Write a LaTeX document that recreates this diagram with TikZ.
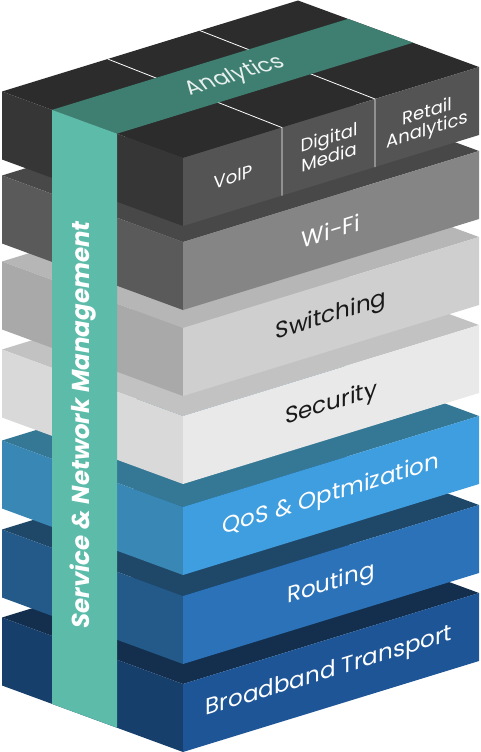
\documentclass[tikz,border=0pt]{standalone}
\usepackage{fontspec}
\setmainfont{Poppins}
\definecolor{apptop}{HTML}{2C2C2C}
\definecolor{appleft}{HTML}{363636}
\definecolor{appright}{HTML}{545454}
\definecolor{wifitop}{HTML}{484848}
\definecolor{wifileft}{HTML}{5A5A5A}
\definecolor{wifiright}{HTML}{858585}
\definecolor{switop}{HTML}{B6B6B6}
\definecolor{swileft}{HTML}{A9A9A9}
\definecolor{swiright}{HTML}{CFCFCF}
\definecolor{sectop}{HTML}{C2C2C2}
\definecolor{secleft}{HTML}{D9D9D9}
\definecolor{secright}{HTML}{E9E9E9}
\definecolor{qostop}{HTML}{347895}
\definecolor{qosleft}{HTML}{3987B5}
\definecolor{qosright}{HTML}{3F9EE0}
\definecolor{routop}{HTML}{1F4768}
\definecolor{rouleft}{HTML}{245A8A}
\definecolor{rouright}{HTML}{2B72B8}
\definecolor{bbtop}{HTML}{132F4D}
\definecolor{bbleft}{HTML}{173F6B}
\definecolor{bbright}{HTML}{1D5597}
\definecolor{mgmt}{HTML}{5DBBAA}
\definecolor{mgmttop}{HTML}{3F7F71}
\begin{document}
\begin{tikzpicture}[x=1pt,y=-1pt,
    face text/.style={yslant=.307,font=\fontsize{23}{26}\selectfont,text=white},
    app text/.style={yslant=.307,font=\fontsize{18}{18}\selectfont,text=white,align=center},
    top text/.style={cm={.955,.294,-.6,.8,(0,0)},font=\fontsize{22}{24}\selectfont,text=white!88!mgmttop},
    mgmt text/.style={rotate=90,font=\fontsize{24.5}{26}\selectfont\bfseries\itshape,text=white}]
    \useasboundingbox (0,0) rectangle (480,752);
    \begin{scope}[shift={(183,684)}]
      \fill[fill=bbtop]   (0,0) -- (-181,-66.5) -- (115,-157.5) -- (296,-91) -- cycle;
      \fill[fill=bbleft]  (0,0) -- (-181,-66.5) -- (-181,1.5) -- (0,68) -- cycle;
      \fill[fill=bbright] (0,0) -- (296,-91) -- (296,-23) -- (0,68) -- cycle;
      \node[face text] (broadband) at (146,-11.5) {Broadband Transport};
    \end{scope}
    \begin{scope}[shift={(183,596)}]
      \fill[fill=routop]   (0,0) -- (-181,-66.5) -- (115,-157.5) -- (296,-91) -- cycle;
      \fill[fill=rouleft]  (0,0) -- (-181,-66.5) -- (-181,1.5) -- (0,68) -- cycle;
      \fill[fill=rouright] (0,0) -- (296,-91) -- (296,-23) -- (0,68) -- cycle;
      \node[face text] (routing) at (148,-11.5) {Routing};
    \end{scope}
    \begin{scope}[shift={(183,507)}]
      \fill[fill=qostop]   (0,0) -- (-181,-66.5) -- (115,-157.5) -- (296,-91) -- cycle;
      \fill[fill=qosleft]  (0,0) -- (-181,-66.5) -- (-181,1.5) -- (0,68) -- cycle;
      \fill[fill=qosright] (0,0) -- (296,-91) -- (296,-23) -- (0,68) -- cycle;
      \node[face text] (qos) at (148,-11.5) {QoS \& Optmization};
    \end{scope}
    \begin{scope}[shift={(183,416)}]
      \fill[fill=sectop]   (0,0) -- (-181,-66.5) -- (115,-157.5) -- (296,-91) -- cycle;
      \fill[fill=secleft]  (0,0) -- (-181,-66.5) -- (-181,1.5) -- (0,68) -- cycle;
      \fill[fill=secright] (0,0) -- (296,-91) -- (296,-23) -- (0,68) -- cycle;
      \node[face text,text=black!90] (security) at (148,-11.5) {Security};
    \end{scope}
    \begin{scope}[shift={(183,328)}]
      \fill[fill=switop]   (0,0) -- (-181,-66.5) -- (115,-157.5) -- (296,-91) -- cycle;
      \fill[fill=swileft]  (0,0) -- (-181,-66.5) -- (-181,1.5) -- (0,68) -- cycle;
      \fill[fill=swiright] (0,0) -- (296,-91) -- (296,-23) -- (0,68) -- cycle;
      \node[face text,text=black!90] (switching) at (148,-11.5) {Switching};
    \end{scope}
    \begin{scope}[shift={(183,242)}]
      \fill[fill=wifitop]   (0,0) -- (-181,-66.5) -- (115,-157.5) -- (296,-91) -- cycle;
      \fill[fill=wifileft]  (0,0) -- (-181,-66.5) -- (-181,1.5) -- (0,68) -- cycle;
      \fill[fill=wifiright] (0,0) -- (296,-91) -- (296,-23) -- (0,68) -- cycle;
      \node[face text] (wifi) at (148,-11.5) {Wi-Fi};
    \end{scope}
    \begin{scope}[shift={(183,158)}]
      \fill[fill=apptop]   (0,0) -- (-181,-66.5) -- (115,-157.5) -- (296,-91) -- cycle;
      \fill[fill=appleft]  (0,0) -- (-181,-66.5) -- (-181,1.5) -- (0,68) -- cycle;
      \fill[fill=appright] (0,0) -- (296,-91) -- (296,-23) -- (0,68) -- cycle;
      \draw[white,line width=.8pt] (99,37.6) -- (99,-30.4) -- (-75.3,-99);
      \draw[white,line width=.8pt] (192,9) -- (192,-59) -- (17,-127.4);
      \fill[fill=mgmttop] (-66.1,-24.3) -- (-131,-48.1) -- (165,-139.1) -- (229.9,-115.3) -- cycle;
      \node[app text] (voip) at (50,19) {VoIP};
      \node[app text] (media) at (146,-11) {Digital\\Media};
      \node[app text] (retail) at (244,-36) {Retail\\Analytics};
      \node[top text] (analytics) at (52,-82) {Analytics};
    \end{scope}
    \fill[fill=mgmt] (117,133.7) -- (52,109.9) -- (52,703.9) -- (117,727.7) -- cycle;
    \node[mgmt text] (mgmt) at (83,425) {Service \& Network Management};
  \end{tikzpicture}
\end{document}
